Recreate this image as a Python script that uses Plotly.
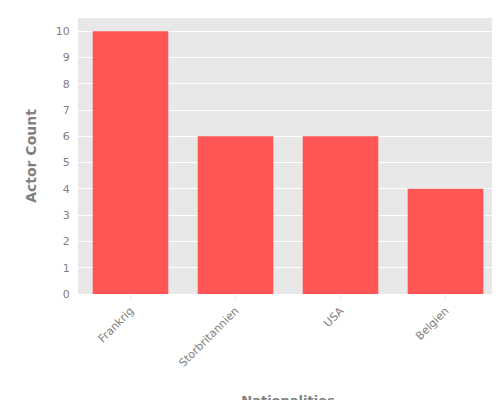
import plotly.graph_objects as go

nationalities = ["Frankrig", "Storbritannien", "USA", "Belgien"]
actor_counts = [10, 6, 6, 4]

fig = go.Figure(go.Bar(x=nationalities, y=actor_counts, marker_color="#ff5555",
                       marker_line_width=0, width=0.72))
fig.update_layout(
    width=500, height=400,
    margin=dict(l=70, r=10, t=10, b=114, autoexpand=False),
    plot_bgcolor="#e8e8e8", paper_bgcolor="white",
    font=dict(family="DejaVu Sans", color="#808080", size=11),
    showlegend=False,
)
fig.update_xaxes(title=dict(text="<b>Nationalities</b>", font=dict(size=13), standoff=30),
                 tickangle=-45, showgrid=False, ticks="outside", ticklen=5,
                 tickcolor="#e8e8e8", automargin=False)
fig.update_yaxes(title=dict(text="<b>Actor Count</b>", font=dict(size=14)),
                 range=[0, 10.5], dtick=1, gridcolor="white", zeroline=False,
                 ticks="outside", ticklen=5, tickcolor="white", automargin=False)
fig.write_html("out.html")
